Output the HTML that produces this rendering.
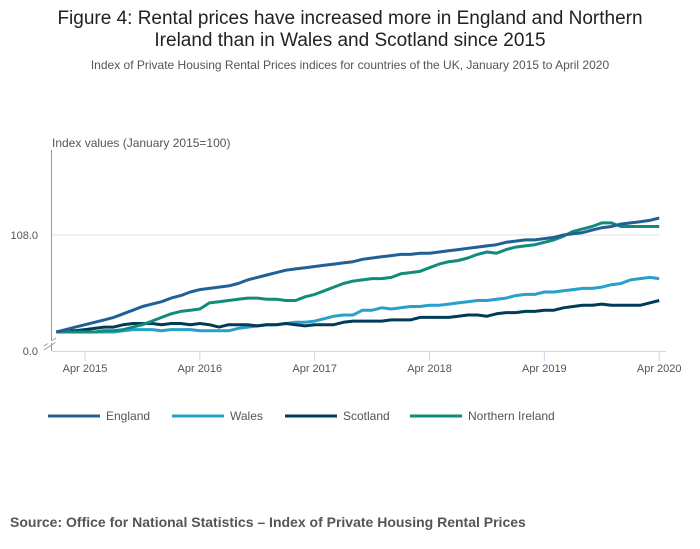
<!DOCTYPE html>
<html><head><meta charset="utf-8"><style>
body{margin:0;background:#fff;font-family:"Liberation Sans",sans-serif;}
#wrap{position:relative;width:700px;height:549px;overflow:hidden;}
</style></head><body>
<div id="wrap">
<svg id="chart" width="700" height="549">
<text x="350" y="24" text-anchor="middle" font-size="19" fill="#222">Figure 4: Rental prices have increased more in England and Northern</text>
<text x="350" y="46" text-anchor="middle" font-size="19" fill="#222">Ireland than in Wales and Scotland since 2015</text>
<text x="350" y="69" text-anchor="middle" font-size="12" fill="#555">Index of Private Housing Rental Prices indices for countries of the UK, January 2015 to April 2020</text>
<text x="52" y="147" font-size="12" fill="#555">Index values (January 2015=100)</text>
<line x1="52" y1="235" x2="660" y2="235" stroke="#e0e0e0" stroke-width="1"/>
<line x1="51.5" y1="150" x2="51.5" y2="351" stroke="#999" stroke-width="1"/>
<line x1="44" y1="346" x2="56" y2="338" stroke="#999"/>
<line x1="44" y1="350" x2="56" y2="342" stroke="#999"/>
<line x1="44" y1="343" x2="58" y2="341" stroke="#fff" stroke-width="2"/>
<line x1="52" y1="351.5" x2="666" y2="351.5" stroke="#ccd6eb"/>
<text x="38" y="239" text-anchor="end" font-size="11" fill="#555">108.0</text>
<text x="38" y="355" text-anchor="end" font-size="11" fill="#555">0.0</text>
<g id="xticks"></g>
<g id="series"></g>
<g id="legend"></g>
<text x="10" y="527" font-size="14" font-weight="bold" fill="#555">Source: Office for National Statistics – Index of Private Housing Rental Prices</text>
</svg>
</div>
<script>
const tickLabels=["Apr 2015","Apr 2016","Apr 2017","Apr 2018","Apr 2019","Apr 2020"];
const tickMonths=[3,15,27,39,51,63];
const seriesNames=["England","Wales","Scotland","Northern Ireland"];
const seriesColors=["#206095","#27a0cc","#003c57","#118c7b"];
const england=[100.0,100.2,100.4,100.6,100.8,101.0,101.2,101.5,101.8,102.1,102.3,102.5,
102.8,103.0,103.3,103.5,103.6,103.7,103.8,104.0,104.3,104.5,104.7,104.9,
105.1,105.2,105.3,105.4,105.5,105.6,105.7,105.8,106.0,106.1,106.2,106.3,
106.4,106.4,106.5,106.5,106.6,106.7,106.8,106.9,107.0,107.1,107.2,107.4,
107.5,107.6,107.6,107.7,107.8,108.0,108.1,108.2,108.4,108.6,108.7,108.9,
109.0,109.1,109.2,109.4];
const wales=[100,100,100,100,100,100,100,100.1,100.2,100.2,100.2,100.1,
100.2,100.2,100.2,100.1,100.1,100.1,100.1,100.3,100.4,100.5,100.6,100.6,
100.7,100.8,100.8,100.9,101.1,101.3,101.4,101.4,101.8,101.8,102.0,101.9,
102.0,102.1,102.1,102.2,102.2,102.3,102.4,102.5,102.6,102.6,102.7,102.8,
103.0,103.1,103.1,103.3,103.3,103.4,103.5,103.6,103.6,103.7,103.9,104.0,
104.3,104.4,104.5,104.4];
const scotland=[100,100.1,100.1,100.2,100.3,100.4,100.4,100.6,100.7,100.7,100.7,100.6,
100.7,100.7,100.6,100.7,100.6,100.4,100.6,100.6,100.6,100.5,100.6,100.6,
100.7,100.6,100.5,100.6,100.6,100.6,100.8,100.9,100.9,100.9,100.9,101.0,
101.0,101.0,101.2,101.2,101.2,101.2,101.3,101.4,101.4,101.3,101.5,101.6,
101.6,101.7,101.7,101.8,101.8,102.0,102.1,102.2,102.2,102.3,102.2,102.2,
102.2,102.2,102.4,102.6];
const northernIreland=[100,100,100,100,100,100.1,100.1,100.2,100.4,100.6,100.9,101.2,
101.5,101.7,101.8,101.9,102.4,102.5,102.6,102.7,102.8,102.8,102.7,102.7,
102.6,102.6,102.9,103.1,103.4,103.7,104.0,104.2,104.3,104.4,104.4,104.5,
104.8,104.9,105.0,105.3,105.6,105.8,105.9,106.1,106.4,106.6,106.5,106.8,
107.0,107.1,107.2,107.4,107.6,107.9,108.3,108.5,108.7,109.0,109.0,108.7,
108.7,108.7,108.7,108.7];
const allSeries=[england,wales,scotland,northernIreland];
const NS="http://www.w3.org/2000/svg";
function xPos(m){return 56.3+m*9.57;}
function yPos(v){return 332-(v-100)*12.125;}
const xt=document.getElementById('xticks');
tickMonths.forEach((m,i)=>{
 const l=document.createElementNS(NS,'line');
 l.setAttribute('x1',xPos(m));l.setAttribute('x2',xPos(m));l.setAttribute('y1',351);l.setAttribute('y2',361);
 l.setAttribute('stroke','#ccd6eb');
 
 
 xt.appendChild(l);
 const t=document.createElementNS(NS,'text');
 t.setAttribute('x',xPos(m));t.setAttribute('y',372);t.setAttribute('text-anchor','middle');
 t.setAttribute('font-size','11');t.setAttribute('fill','#555');
 t.textContent=tickLabels[i];
 
 
 xt.appendChild(t);
});
const sg=document.getElementById('series');
const order=[1,2,3,0];
order.forEach(i=>{
 const p=document.createElementNS(NS,'polyline');
 p.setAttribute('points',allSeries[i].map((v,m)=>xPos(m).toFixed(1)+','+yPos(v).toFixed(1)).join(' '));
 p.setAttribute('fill','none');p.setAttribute('stroke',seriesColors[i]);p.setAttribute('stroke-width','3');
 p.setAttribute('stroke-linejoin','round');
 
 
 sg.appendChild(p);
});
const lg=document.getElementById('legend');
const lx=[48,172,285,410];
seriesNames.forEach((n,i)=>{
 const g=document.createElementNS(NS,'g');
 
 
 const l=document.createElementNS(NS,'line');
 l.setAttribute('x1',lx[i]);l.setAttribute('x2',lx[i]+52);l.setAttribute('y1',416);l.setAttribute('y2',416);
 l.setAttribute('stroke',seriesColors[i]);l.setAttribute('stroke-width','3');
 
 
 g.appendChild(l);
 const t=document.createElementNS(NS,'text');
 t.setAttribute('x',lx[i]+58);t.setAttribute('y',420);t.setAttribute('font-size','12');t.setAttribute('fill','#555');
 t.textContent=n;
 
 
 g.appendChild(t);
 lg.appendChild(g);
});
</script>
</body></html>
